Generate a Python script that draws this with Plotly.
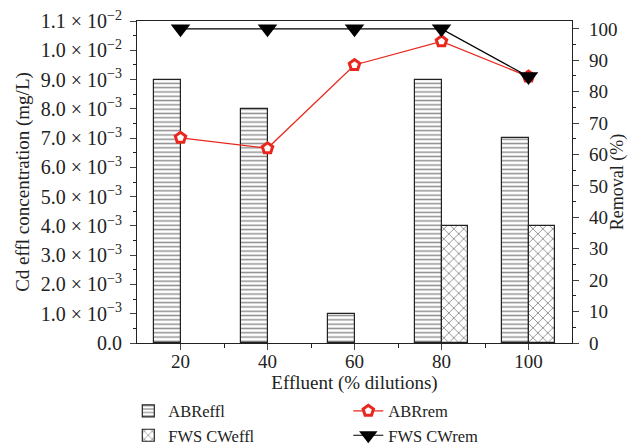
import plotly.graph_objects as go

dilutions = [20, 40, 60, 80, 100]
abr_effl = [9.0e-3, 8.0e-3, 1.0e-3, 9.0e-3, 7.0e-3]
fws_effl = [None, None, None, 4.0e-3, 4.0e-3]
abr_rem = [65.3, 62.0, 88.5, 96.0, 84.8]
fws_rem = [100, 100, 100, 100, 84.8]

left_tickvals = [i * 1e-3 for i in range(12)]
left_ticktext = ["0.0"] + [
    f"{v:.1f} × 10<sup>−3</sup>" for v in range(1, 10)
] + ["1.0 × 10<sup>−2</sup>", "1.1 × 10<sup>−2</sup>"]

FONT = "Liberation Serif"

fig = go.Figure()
fig.add_trace(go.Bar(
    x=dilutions, y=abr_effl, name="ABReffl", width=6, offset=-6,
    marker=dict(color="white", line=dict(color="#222", width=1.2),
                pattern=dict(shape="-", size=4.3, solidity=0.35, fgcolor="#222", bgcolor="white")),
    legendrank=1,
))
fig.add_trace(go.Bar(
    x=dilutions, y=fws_effl, name="FWS CWeffl", width=6, offset=0,
    marker=dict(color="white", line=dict(color="#222", width=1.2),
                pattern=dict(shape="x", size=7, solidity=0.25, fgcolor="#222", bgcolor="white")),
    legendrank=3,
))
fig.add_trace(go.Scatter(
    x=dilutions, y=abr_rem, name="ABRrem", yaxis="y2", mode="lines+markers",
    line=dict(color="#e8281e", width=1.3),
    marker=dict(symbol="pentagon", size=11, color="white", line=dict(color="#e8281e", width=3)),
    legendrank=2,
))
fig.add_trace(go.Scatter(
    x=dilutions, y=fws_rem, name="FWS CWrem", yaxis="y2", mode="lines+markers",
    line=dict(color="black", width=1.2),
    marker=dict(symbol="triangle-down", size=17, color="black"),
    legendrank=4,
))

fig.update_layout(
    width=628, height=447,
    margin=dict(l=137, r=56, t=21, b=104, autoexpand=False),
    plot_bgcolor="white", paper_bgcolor="white",
    font=dict(family=FONT, size=18, color="#222"),
    barmode="overlay",
    bargap=0,
    xaxis=dict(
        range=[10, 110], tickvals=dilutions, ticks="outside", ticklen=6,
        showline=True, linecolor="#222", linewidth=1.2, mirror=True,
        showgrid=False, zeroline=False, ticklabelstandoff=-5,
        minor=dict(tickvals=[30, 50, 70, 90], ticks="outside", ticklen=4, tickcolor="#222"),
        title=dict(text="Effluent (% dilutions)", standoff=4, font=dict(size=19)),
        tickfont=dict(size=19),
    ),
    yaxis=dict(
        range=[0, 0.011], tickvals=left_tickvals, ticktext=left_ticktext,
        ticks="outside", ticklen=6, showline=True, linecolor="#222", linewidth=1.2,
        showgrid=False, zeroline=False, ticklabelstandoff=4,
        minor=dict(tickvals=[i * 1e-3 + 5e-4 for i in range(11)], ticks="outside", ticklen=3, tickcolor="#222"),
        title=dict(text="Cd effl concentration (mg/L)", standoff=6, font=dict(size=19)),
        tickfont=dict(size=20),
    ),
    yaxis2=dict(
        overlaying="y", side="right", range=[0, 102.5],
        tickvals=list(range(0, 101, 10)), ticks="outside", ticklen=6,
        showline=True, linecolor="#222", linewidth=1.2, showgrid=False, zeroline=False,
        ticklabelstandoff=6,
        minor=dict(tickvals=list(range(5, 100, 10)), ticks="outside", ticklen=3, tickcolor="#222"),
        title=dict(text="Removal (%)", standoff=2, font=dict(size=18)),
        tickfont=dict(size=19),
    ),
    legend=dict(
        orientation="h", x=-0.02, xanchor="left", y=-0.157, yanchor="top",
        entrywidth=175, entrywidthmode="pixels", traceorder="normal",
        font=dict(size=16.5), bgcolor="rgba(0,0,0,0)", itemwidth=30,
        tracegroupgap=0,
    ),
)

fig.write_html("out.html", post_script="document.body.style.margin='0';",
               config={"displayModeBar": False})
